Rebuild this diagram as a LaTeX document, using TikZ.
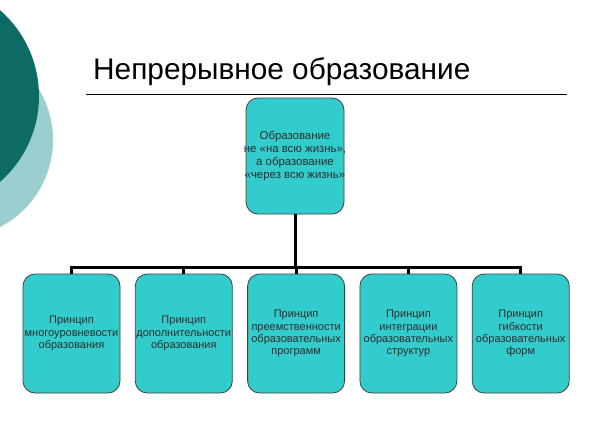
\documentclass[tikz,border=0pt]{standalone}
\usepackage{fontspec}
\setmainfont{Liberation Sans}
\usepackage{xcolor}
\definecolor{tealdark}{RGB}{14,107,100}
\definecolor{teallight}{RGB}{155,206,206}
\definecolor{boxcyan}{RGB}{51,204,204}
\definecolor{boxtext}{RGB}{45,45,45}
\usetikzlibrary{positioning,calc}
\tikzset{
    rootbox/.style   = {rectangle, draw=black!75, fill=boxcyan, line width=0.8pt,
                        minimum width=98pt, minimum height=116pt, align=center,
                        inner ysep=0pt, inner xsep=-4pt, rounded corners=12pt,
                        text=boxtext, font=\fontsize{11.4}{12.9}\selectfont},
    princbox/.style  = {rectangle, draw=black!75, fill=boxcyan, line width=0.8pt,
                        minimum width=97pt, minimum height=119pt, align=center,
                        inner ysep=0pt, inner xsep=-3pt, rounded corners=12pt,
                        text=boxtext, font=\fontsize{11}{12.3}\selectfont},
    tree/.style      = {draw=black, line width=3pt},
    titletext/.style = {font=\fontsize{29.8}{32}\selectfont, anchor=base west, inner sep=0pt}
}

\begin{document}
\begin{tikzpicture}[x=1pt, y=-1pt, node distance=14.5pt]

\useasboundingbox (0,0) rectangle (591,432);

% --- decorative circles in the corner ---
\begin{scope}
  \clip (0,0) rectangle (591,432);
  \fill[teallight] (-45,140) circle[radius=98];
  \fill[tealdark]  (-75,96)  circle[radius=114];
\end{scope}

% --- title and rule ---
\node[titletext] (title) at (93,79) {Непрерывное образование};
\draw[line width=0.8pt] (86,94) -- (567,94);

% --- root ---
\node[rootbox] (root) at (295,156) {Образование\\
   не «на всю жизнь»,\\ а образование\\ «через всю жизнь»};

% --- principles ---
\node[princbox] (multi) at (71.5,333.5) {Принцип\\ многоуровневости\\ образования};
\node[princbox, right=of multi] (extra) {Принцип\\ дополнительности\\ образования};
\node[princbox, right=of extra] (cont)  {Принцип\\ преемственности\\ образовательных\\ программ};
\node[princbox, right=of cont]  (integ) {Принцип\\ интеграции\\ образовательных\\ структур};
\node[princbox, right=of integ] (flex)  {Принцип\\ гибкости\\ образовательных\\ форм};

% --- tree connectors ---
\coordinate (bus) at ($(root.south)+(0,53)$);
\foreach \b in {multi, extra, cont, integ, flex}
   \draw[tree] (root.south) -- (bus) -| (\b.north);

\end{tikzpicture}
\end{document}
